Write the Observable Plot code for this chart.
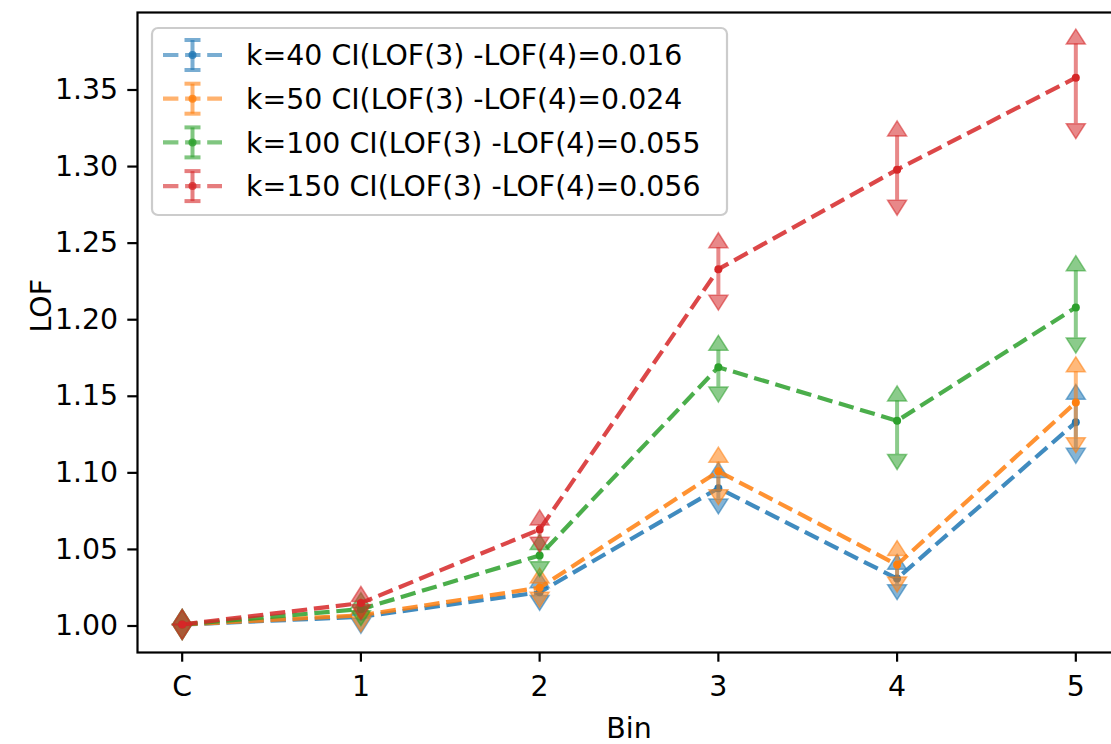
<!DOCTYPE html>
<html>
<head>
<meta charset="utf-8">
<script src="https://cdn.jsdelivr.net/npm/d3@7"></script>
<script src="https://cdn.jsdelivr.net/npm/@observablehq/plot@0.6"></script>
<style>
  html, body { margin: 0; padding: 0; background: #fff; overflow: hidden; }
  #chart { position: relative; width: 1111px; height: 744px; overflow: hidden; }
  #legend { position: absolute; left: 0; top: 0; }
</style>
</head>
<body>
<div id="chart"></div>
<script>
// Bins on the x axis (C = control)
const bins = ["C", "1", "2", "3", "4", "5"];

// Series names, as shown in the legend
const seriesLabels = [
  "k=40 CI(LOF(3) -LOF(4)=0.016",
  "k=50 CI(LOF(3) -LOF(4)=0.024",
  "k=100 CI(LOF(3) -LOF(4)=0.055",
  "k=150 CI(LOF(3) -LOF(4)=0.056"
];
const seriesColors = ["#1f77b4", "#ff7f0e", "#2ca02c", "#d62728"];

// Mean LOF per bin, with lower / upper confidence bounds
const lof40  = [1.001, 1.006, 1.022, 1.090, 1.031, 1.133];
const lo40   = [1.001, 1.005, 1.020, 1.083, 1.027, 1.116];
const hi40   = [1.001, 1.007, 1.025, 1.097, 1.037, 1.148];

const lof50  = [1.001, 1.007, 1.025, 1.101, 1.040, 1.146];
const lo50   = [1.001, 1.006, 1.022, 1.089, 1.032, 1.123];
const hi50   = [1.001, 1.008, 1.028, 1.107, 1.046, 1.166];

const lof100 = [1.001, 1.011, 1.046, 1.169, 1.134, 1.208];
const lo100  = [1.001, 1.010, 1.042, 1.156, 1.112, 1.188];
const hi100  = [1.001, 1.012, 1.050, 1.180, 1.147, 1.232];

const lof150 = [1.001, 1.015, 1.063, 1.233, 1.298, 1.358];
const lo150  = [1.001, 1.014, 1.058, 1.216, 1.278, 1.328];
const hi150  = [1.001, 1.016, 1.066, 1.247, 1.320, 1.380];

const yTicks = [1.00, 1.05, 1.10, 1.15, 1.20, 1.25, 1.30, 1.35];

const series = [
  {label: seriesLabels[0], color: seriesColors[0], lof: lof40,  lo: lo40,  hi: hi40},
  {label: seriesLabels[1], color: seriesColors[1], lof: lof50,  lo: lo50,  hi: hi50},
  {label: seriesLabels[2], color: seriesColors[2], lof: lof100, lo: lo100, hi: hi100},
  {label: seriesLabels[3], color: seriesColors[3], lof: lof150, lo: lo150, hi: hi150}
];

const FONT = "DejaVu Sans, Liberation Sans, sans-serif";
const FS = 28.4;

// Arrowhead symbols whose base sits on the bound, pointing away from the mean
const CW = 9.5, CH = 15;
const caretUp = {draw(ctx) { ctx.moveTo(-CW, 0); ctx.lineTo(CW, 0); ctx.lineTo(0, -CH); ctx.closePath(); }};
const caretDown = {draw(ctx) { ctx.moveTo(-CW, 0); ctx.lineTo(CW, 0); ctx.lineTo(0, CH); ctx.closePath(); }};

const marks = [];
for (const s of series) {
  const rows = bins.map((b, i) => ({bin: i, lof: s.lof[i], lo: s.lo[i], hi: s.hi[i]}));
  marks.push(
    Plot.line(rows, {x: "bin", y: "lof", stroke: s.color, strokeWidth: 4.2,
      strokeDasharray: "15.4 6.7", strokeOpacity: 0.85, strokeLinecap: "butt", curve: "linear"}),
    Plot.ruleX(rows, {x: "bin", y1: "lo", y2: "hi", stroke: s.color, strokeWidth: 4, strokeOpacity: 0.55}),
    Plot.dot(rows, {x: "bin", y: "hi", symbol: caretUp, r: 5, fill: s.color, fillOpacity: 0.55,
      stroke: s.color, strokeOpacity: 0.55, strokeWidth: 1.5}),
    Plot.dot(rows, {x: "bin", y: "lo", symbol: caretDown, r: 5, fill: s.color, fillOpacity: 0.55,
      stroke: s.color, strokeOpacity: 0.55, strokeWidth: 1.5}),
    Plot.dot(rows, {x: "bin", y: "lof", r: 4, fill: s.color, stroke: "none"})
  );
}

const chart = Plot.plot({
  width: 1111,
  height: 744,
  marginLeft: 137,
  marginRight: -9,
  marginTop: 12,
  marginBottom: 92,
  style: {fontFamily: FONT, fontSize: FS + "px", color: "black", background: "white", overflow: "hidden"},
  x: {type: "linear", domain: [-0.25, 5.25]},
  y: {type: "linear", domain: [0.9827, 1.4006]},
  marks: [
    ...marks,
    Plot.frame({stroke: "black", strokeWidth: 2.2}),
    Plot.axisX({ticks: [0, 1, 2, 3, 4, 5], tickFormat: i => bins[i], tickSize: 9.7, tickPadding: 14,
      strokeWidth: 2.2, fontSize: FS, label: null}),
    Plot.axisY({ticks: yTicks, tickFormat: d3.format(".2f"), tickSize: 9.7, tickPadding: 9.7,
      strokeWidth: 2.2, fontSize: FS, label: null}),
    Plot.text(["LOF"], {frameAnchor: "left", rotate: -90, dx: -96, fontSize: FS, fill: "black"}),
    Plot.text(["Bin"], {frameAnchor: "bottom", dy: 85, fontSize: FS, fill: "black"})
  ]
});

const host = document.getElementById("chart");
host.appendChild(chart);

// Legend box drawn on top of the plot area
const L = {x: 152, y: 28, w: 575, h: 187, row0: 27, rowStep: 43.7, hx0: 11, hx1: 70, textX: 94};
const leg = d3.select(host).append("svg")
  .attr("id", "legend")
  .attr("width", 1111).attr("height", 744)
  .style("position", "absolute").style("left", 0).style("top", 0)
  .attr("font-family", FONT).attr("font-size", FS);
leg.append("rect")
  .attr("x", L.x).attr("y", L.y).attr("width", L.w).attr("height", L.h)
  .attr("rx", 6).attr("fill", "white").attr("fill-opacity", 0.8)
  .attr("stroke", "#cccccc").attr("stroke-width", 2.2);
series.forEach((s, i) => {
  const cy = L.y + L.row0 + i * L.rowStep;
  const x0 = L.x + L.hx0, x1 = L.x + L.hx1, cx = (x0 + x1) / 2;
  const g = leg.append("g");
  g.append("line").attr("x1", x0).attr("x2", x1).attr("y1", cy).attr("y2", cy)
    .attr("stroke", s.color).attr("stroke-width", 4.2).attr("stroke-opacity", 0.6)
    .attr("stroke-dasharray", "15.4 6.7");
  g.append("line").attr("x1", cx).attr("x2", cx).attr("y1", cy - 15).attr("y2", cy + 15)
    .attr("stroke", s.color).attr("stroke-width", 4).attr("stroke-opacity", 0.6);
  for (const dy of [-15, 15]) {
    g.append("line").attr("x1", cx - 8).attr("x2", cx + 8).attr("y1", cy + dy).attr("y2", cy + dy)
      .attr("stroke", s.color).attr("stroke-width", 4).attr("stroke-opacity", 0.6);
  }
  g.append("circle").attr("cx", cx).attr("cy", cy).attr("r", 4).attr("fill", s.color).attr("fill-opacity", 0.8);
  g.append("text").attr("x", L.x + L.textX).attr("y", cy).attr("dy", "0.36em")
    .attr("fill", "black").text(s.label);
});
</script>
</body>
</html>
